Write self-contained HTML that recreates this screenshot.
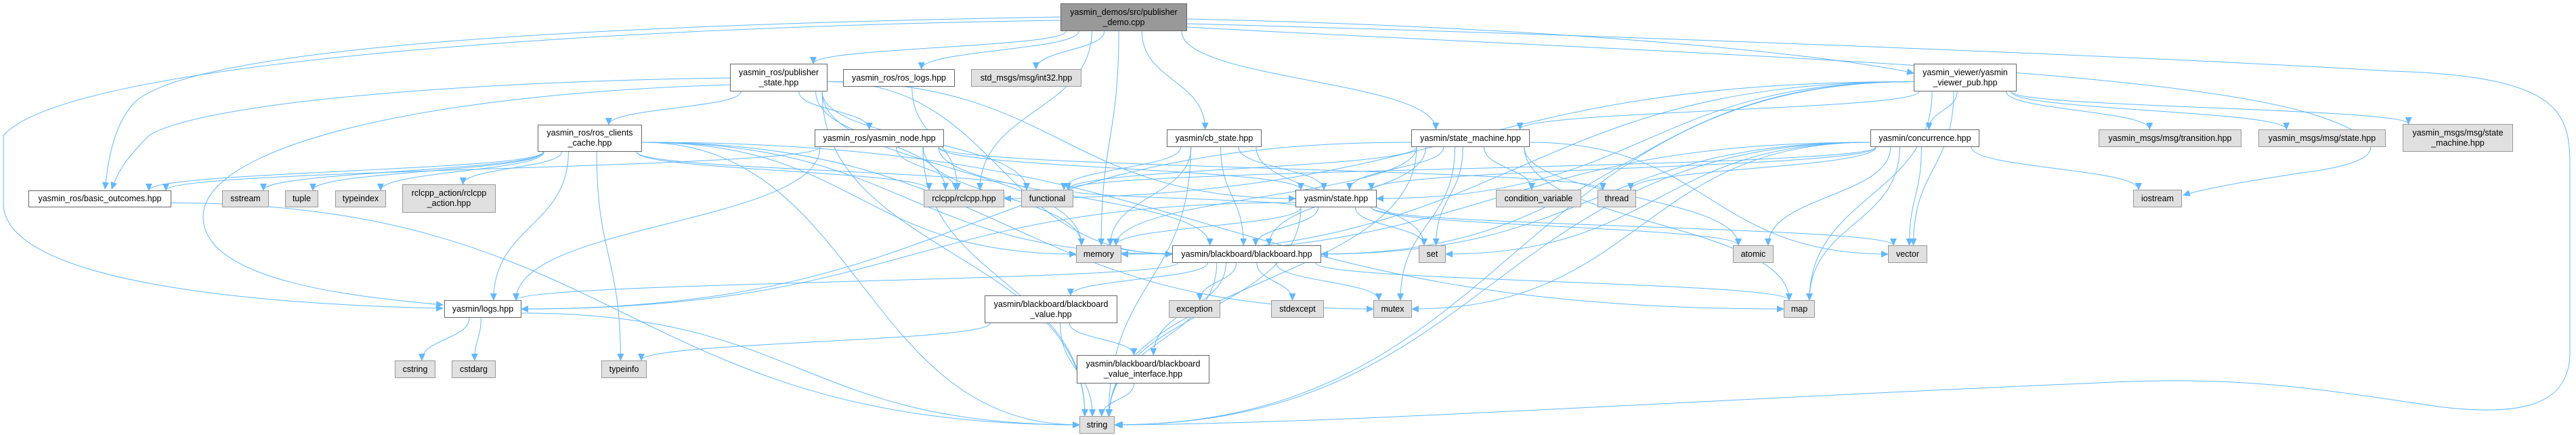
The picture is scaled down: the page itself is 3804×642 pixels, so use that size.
<!DOCTYPE html>
<html><head><meta charset="utf-8">
<style>
html,body{margin:0;padding:0;background:#fff;}
#c{position:relative;width:3804px;height:642px;overflow:hidden;background:#fff;}
.n{position:absolute;box-sizing:border-box;border:1px solid #666;background:#fff;font-family:"Liberation Sans",Arial,sans-serif;font-size:12.5px;color:#000;display:flex;align-items:center;justify-content:center;text-align:center;line-height:15px;white-space:nowrap;z-index:2;}
.e{background:#e0e0e0;border-color:#999;}
.r{background:#999;border-color:#666;}
svg{position:absolute;left:0;top:0;z-index:1;}
</style></head><body>
<div id="c">
<svg id="s" width="3804" height="642" viewBox="0 0 3804 642">
<defs><marker id="a" markerWidth="11" markerHeight="10" refX="10" refY="5" orient="auto" markerUnits="userSpaceOnUse"><path d="M0,0 L11,5 L0,10 z" fill="#63b8ff"/></marker></defs>
<g id="g" fill="none" stroke="#63b8ff" stroke-width="1"></g>
</svg>
<div class="n r" style="left:1566px;top:5px;width:187px;height:41px">yasmin_demos/src/publisher<br>_demo.cpp</div>
<div class="n" style="left:1078px;top:94px;width:144px;height:41px">yasmin_ros/publisher<br>_state.hpp</div>
<div class="n" style="left:1245px;top:102px;width:165px;height:26px">yasmin_ros/ros_logs.hpp</div>
<div class="n e" style="left:1434px;top:102px;width:163px;height:26px">std_msgs/msg/int32.hpp</div>
<div class="n" style="left:2826px;top:94px;width:152px;height:41px">yasmin_viewer/yasmin<br>_viewer_pub.hpp</div>
<div class="n" style="left:794px;top:184px;width:154px;height:40px">yasmin_ros/ros_clients<br>_cache.hpp</div>
<div class="n" style="left:1203px;top:191px;width:191px;height:26px">yasmin_ros/yasmin_node.hpp</div>
<div class="n" style="left:1723px;top:191px;width:140px;height:26px">yasmin/cb_state.hpp</div>
<div class="n" style="left:2084px;top:191px;width:175px;height:26px">yasmin/state_machine.hpp</div>
<div class="n" style="left:2762px;top:191px;width:161px;height:26px">yasmin/concurrence.hpp</div>
<div class="n e" style="left:3099px;top:191px;width:211px;height:26px">yasmin_msgs/msg/transition.hpp</div>
<div class="n e" style="left:3335px;top:191px;width:188px;height:26px">yasmin_msgs/msg/state.hpp</div>
<div class="n e" style="left:3548px;top:183px;width:163px;height:41px">yasmin_msgs/msg/state<br>_machine.hpp</div>
<div class="n" style="left:42px;top:281px;width:211px;height:25px">yasmin_ros/basic_outcomes.hpp</div>
<div class="n e" style="left:328px;top:281px;width:69px;height:25px">sstream</div>
<div class="n e" style="left:421px;top:281px;width:49px;height:25px">tuple</div>
<div class="n e" style="left:495px;top:281px;width:75px;height:25px">typeindex</div>
<div class="n e" style="left:594px;top:272px;width:138px;height:42px">rclcpp_action/rclcpp<br>_action.hpp</div>
<div class="n e" style="left:1364px;top:280px;width:119px;height:26px">rclcpp/rclcpp.hpp</div>
<div class="n e" style="left:1508px;top:280px;width:77px;height:26px">functional</div>
<div class="n" style="left:1913px;top:280px;width:120px;height:26px">yasmin/state.hpp</div>
<div class="n e" style="left:2209px;top:280px;width:126px;height:26px">condition_variable</div>
<div class="n e" style="left:2359px;top:280px;width:57px;height:26px">thread</div>
<div class="n e" style="left:3150px;top:280px;width:72px;height:26px">iostream</div>
<div class="n e" style="left:1589px;top:362px;width:67px;height:26px">memory</div>
<div class="n" style="left:1731px;top:362px;width:220px;height:26px">yasmin/blackboard/blackboard.hpp</div>
<div class="n e" style="left:2095px;top:362px;width:40px;height:26px">set</div>
<div class="n e" style="left:2559px;top:362px;width:60px;height:26px">atomic</div>
<div class="n e" style="left:2788px;top:362px;width:58px;height:26px">vector</div>
<div class="n" style="left:656px;top:443px;width:114px;height:26px">yasmin/logs.hpp</div>
<div class="n" style="left:1454px;top:436px;width:196px;height:41px">yasmin/blackboard/blackboard<br>_value.hpp</div>
<div class="n e" style="left:1726px;top:443px;width:76px;height:26px">exception</div>
<div class="n e" style="left:1877px;top:443px;width:78px;height:26px">stdexcept</div>
<div class="n e" style="left:2028px;top:443px;width:57px;height:26px">mutex</div>
<div class="n e" style="left:2634px;top:443px;width:46px;height:26px">map</div>
<div class="n e" style="left:583px;top:532px;width:60px;height:26px">cstring</div>
<div class="n e" style="left:667px;top:532px;width:65px;height:26px">cstdarg</div>
<div class="n e" style="left:888px;top:532px;width:67px;height:26px">typeinfo</div>
<div class="n" style="left:1590px;top:524px;width:196px;height:42px">yasmin/blackboard/blackboard<br>_value_interface.hpp</div>
<div class="n e" style="left:1594px;top:614px;width:52px;height:26px">string</div>
</div>
<script>
var N={
root:[1566,5,1753,46],ps:[1078,94,1222,135],rl:[1245,102,1410,128],i32:[1434,102,1597,128],vp:[2826,94,2978,135],
rcc:[794,184,948,224],yn:[1203,191,1394,217],cb:[1723,191,1863,217],sm:[2084,191,2259,217],cc:[2762,191,2923,217],
tr:[3099,191,3310,217],ms:[3335,191,3523,217],msm:[3548,183,3711,224],bo:[42,281,253,306],ss:[328,281,397,306],
tu:[421,281,470,306],ti:[495,281,570,306],ra:[594,272,732,314],rc:[1364,280,1483,306],fu:[1508,280,1585,306],
st:[1913,280,2033,306],cv:[2209,280,2335,306],th:[2359,280,2416,306],io:[3150,280,3222,306],me:[1589,362,1656,388],
bb:[1731,362,1951,388],se:[2095,362,2135,388],at:[2559,362,2619,388],ve:[2788,362,2846,388],lo:[656,443,770,469],
bv:[1454,436,1650,477],ex:[1726,443,1802,469],sx:[1877,443,1955,469],mu:[2028,443,2085,469],ma:[2634,443,2680,469],
cs:[583,532,643,558],cd:[667,532,732,558],tf:[888,532,955,558],vi:[1590,524,1786,566],sg:[1594,614,1646,640]};
var E={
root:['ps','rl','i32','rc','me','cb','sm'],
ps:['rcc','yn','rc','fu','me','sg','st','bb'],
rcc:['bo','ss','tu','ti','ra','lo','tf','sg','rc','me','bb','mu','ma','fu'],
yn:['bo','rc','me','sg','th','bb','st','lo'],
rl:['rc'],
cb:['fu','me','st','bb','sg','se'],
sm:['st','bb','cv','se','at','ma','ve','mu','sg','me','fu','lo'],
st:['me','se','bb','sg','at','ve','lo','fu'],
bb:['lo','bv','ex','sx','mu','ma','sg','vi','me'],
bv:['tf','vi','sg'],vi:['sg'],lo:['cs','cd','sg'],bo:['sg'],
vp:['sm','st','cc','tr','ms','msm','rc','me','sg','ve','ma','bb'],
cc:['st','bb','se','at','ve','ma','mu','th','me','sg','fu','io']};
var g=document.getElementById('g'),d='';
function P(p){d+='<path d="'+p+'" marker-end="url(#a)"/>';}
for(var s in E){E[s].forEach(function(t){
 var a=N[s],b=N[t];var acx=(a[0]+a[2])/2,bcx=(b[0]+b[2])/2;
 var sx=acx+(bcx-acx)*0.2;sx=Math.max(a[0]+8,Math.min(a[2]-8,sx));
 var sy=a[3];var ex=Math.max(b[0]+8,Math.min(b[2]-8,bcx+(acx-bcx)*0.1));var ey=b[1];
 var dy=ey-sy;
 var dx=bcx-acx;
 if(dy>100 && Math.abs(dx)>600 && (b[2]<a[0]||b[0]>a[2])){
   var right=b[0]>a[2];
   var ex2=right?b[0]:b[2], ey2=(b[1]+b[3])/2;
   var sx2=right?a[2]:a[0], sy2=(a[1]+a[3])/2+6;
   var mx=(sx2+ex2)/2;
   P('M'+sx2+','+sy2+' C'+mx+','+sy2+' '+mx+','+ey2+' '+ex2+','+ey2);
   return;
 }
 P('M'+sx+','+sy+' C'+sx+','+(sy+dy*0.5)+' '+ex+','+(ey-dy*0.5)+' '+ex+','+ey);
});}
P('M1753,28 C2300,40 2700,80 2826,108');
P('M1753,35 C2500,55 3300,90 3530,105 C3790,112 3795,170 3795,250 L3795,520 C3795,600 3720,615 3600,600 C3400,570 3300,555 3100,565 C2500,590 2000,625 1648,627');
P('M1753,40 C2500,80 3200,100 3420,170 C3540,210 3520,240 3400,255 C3300,270 3250,280 3224,288');
P('M1566,25 C1000,35 300,60 200,150 C170,180 160,230 155,279');
P('M1566,30 C900,40 100,90 5,200 L5,300 C5,420 400,450 654,455');
P('M1078,115 C700,120 300,150 220,200 C190,230 175,250 165,279');
P('M1078,125 C600,140 300,220 300,320 C300,420 550,440 654,450');
g.innerHTML=d;
</script>
</body></html>
